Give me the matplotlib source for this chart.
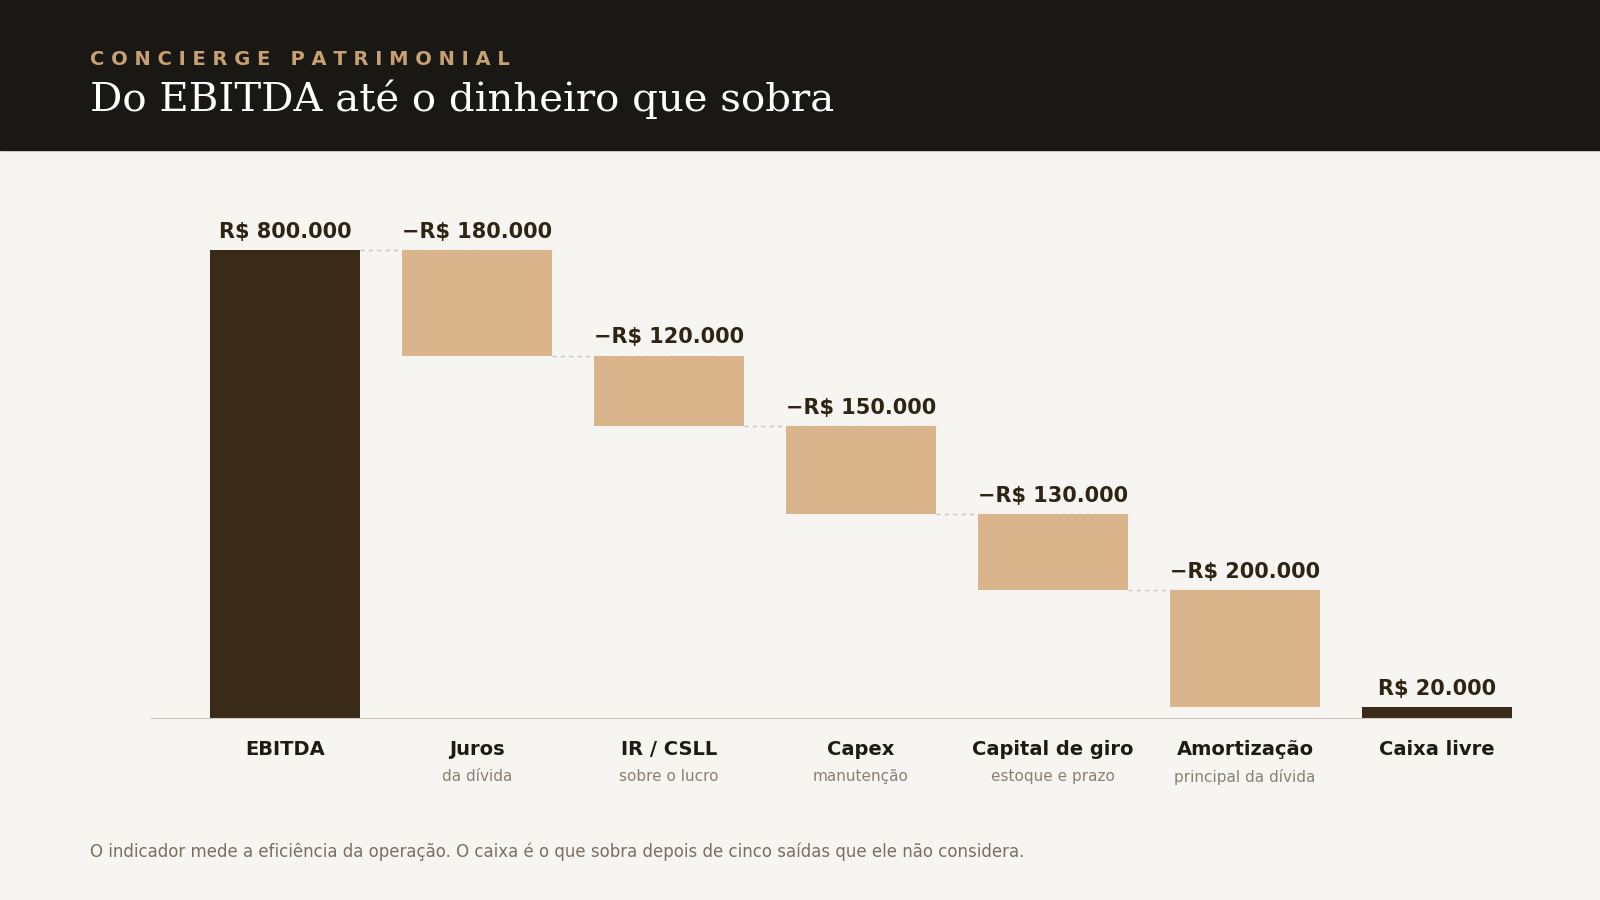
import matplotlib
matplotlib.use('Agg')
import matplotlib.pyplot as plt

categorias = ["EBITDA", "Juros", "IR / CSLL", "Capex", "Capital de giro", "Amortização", "Caixa livre"]
subtitulos = ["", "da dívida", "sobre o lucro", "manutenção", "estoque e prazo", "principal da dívida", ""]
valores = [800000, -180000, -120000, -150000, -130000, -200000, 20000]
rotulos = ["R$ 800.000", "−R$ 180.000", "−R$ 120.000", "−R$ 150.000",
           "−R$ 130.000", "−R$ 200.000", "R$ 20.000"]

escuro = "#3a2a18"
bege = "#dab58c"
fundo = "#f7f5f2"
texto = "#2e2414"

fig = plt.figure(figsize=(16, 9), dpi=100, facecolor=fundo)

# faixa do cabeçalho
fig.patches.append(plt.Rectangle((0, 0.833), 1, 0.167, transform=fig.transFigure,
                                 color="#1a1814", zorder=0))
fig.text(0.056, 0.934, "CONCIERGE PATRIMONIAL", color="#c9a070", fontsize=14,
         fontweight="bold", va="center")
fig.texts[-1].set_fontproperties(fig.texts[-1].get_fontproperties())
fig.texts[-1]._text = "  ".join([]) or "C O N C I E R G E   P A T R I M O N I A L"
fig.text(0.056, 0.890, "Do EBITDA até o dinheiro que sobra", color="white",
         fontsize=29, family="DejaVu Serif", va="center")

ax = fig.add_axes([0.094, 0.201, 0.851, 0.521 * 900 / 800])
ax.set_facecolor(fundo)
ax.set_xlim(-0.70, 6.39)
ax.set_ylim(0, 900000)

nivel = 0
topos = []
for i, v in enumerate(valores):
    if i == 0 or i == len(valores) - 1:
        base, altura, cor = 0, abs(v), escuro
        topo = abs(v)
        nivel = abs(v) if i == 0 else nivel
    else:
        base, altura, cor = nivel + v, -v, bege
        topo = nivel
        nivel = nivel + v
    ax.bar(i, altura, bottom=base, width=0.78, color=cor, zorder=2)
    ax.text(i, topo + 14000, rotulos[i], ha="center", va="bottom", fontsize=15,
            fontweight="bold", color=texto)
    topos.append(nivel)
    if i < len(valores) - 2:
        ax.plot([i + 0.39, i + 1.39], [nivel, nivel], ls=(0, (3, 3)), color="#c8c2ba",
                lw=1, zorder=1)

ax.axhline(0, color="#cfc8be", lw=1.5, zorder=3)
for s in ax.spines.values():
    s.set_visible(False)
ax.set_xticks([])
ax.set_yticks([])

for i, c in enumerate(categorias):
    ax.text(i, -35000, c, ha="center", va="top", fontsize=14, fontweight="bold",
            color="#1e1a14")
    if subtitulos[i]:
        ax.text(i, -85000, subtitulos[i], ha="center", va="top", fontsize=11,
                color="#8a8072")

fig.text(0.056, 0.054, "O indicador mede a eficiência da operação. O caixa é o que sobra "
         "depois de cinco saídas que ele não considera.", fontsize=12, color="#7a6e60",
         va="center")

fig.savefig("out.png", dpi=100, facecolor=fundo)
